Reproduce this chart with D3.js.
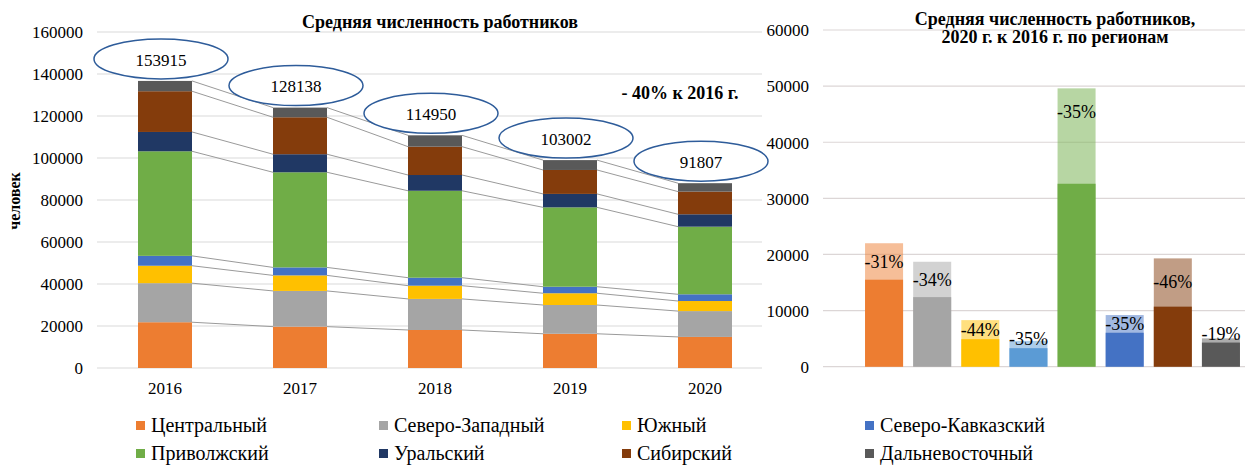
<!DOCTYPE html>
<html>
<head>
<meta charset="utf-8">
<script src="https://cdn.jsdelivr.net/npm/d3@7"></script>
<style>
    body { margin: 0; background: #fff; }
</style>
</head>
<body>
<div id="chart"></div>
<script>
// years and regions
const years = ["2016", "2017", "2018", "2019", "2020"];
const regions = ["Центральный", "Северо-Западный", "Южный", "Северо-Кавказский",
    "Приволжский", "Уральский", "Сибирский", "Дальневосточный"];

// stacked values per region (persons), by year
const central = [21800, 19700, 18100, 16300, 14800];
const northWest = [18600, 17000, 14800, 13700, 12300];
const south = [8300, 7400, 6300, 5600, 4800];
const northCaucasus = [4700, 3800, 3800, 3100, 3200];
const volga = [49800, 45300, 41400, 37800, 32200];
const ural = [9200, 8600, 7500, 6400, 5900];
const siberia = [19400, 17600, 13500, 11400, 10800];
const farEast = [4900, 4600, 5400, 4700, 4000];

// labels in the ellipses
const totalLabels = ["153915", "128138", "114950", "103002", "91807"];

// right chart: 2016 vs 2020 by region
const regions2016 = [22000, 18700, 8300, 4600, 49600, 9200, 19300, 5050];
const regions2020 = [15500, 12400, 4900, 3300, 32600, 6050, 10700, 4300];
const changeLabels = ["-31%", "-34%", "-44%", "-35%", "-35%", "-35%", "-46%", "-19%"];

const leftTicks = [0, 20000, 40000, 60000, 80000, 100000, 120000, 140000, 160000];
const rightTicks = [0, 10000, 20000, 30000, 40000, 50000, 60000];

const colors = ["#ED7D31", "#A5A5A5", "#FFC000", "#4472C4", "#70AD47", "#203864", "#843C0C", "#595959"];
const rightColors = ["#ED7D31", "#A5A5A5", "#FFC000", "#5B9BD5", "#70AD47", "#4472C4", "#843C0C", "#595959"];

const series = [central, northWest, south, northCaucasus, volga, ural, siberia, farEast];

const font = "Liberation Serif";
const width = 1245, height = 466;
const svg = d3.select("#chart").append("svg")
    .attr("width", width)
    .attr("height", height)
    .style("font-family", font);

// ---------- left chart ----------
const table = years.map((y, i) => {
    const row = { year: y };
    regions.forEach((r, j) => row[r] = series[j][i]);
    return row;
});
const stacked = d3.stack().keys(regions)(table);

const xLeft = d3.scaleBand().domain(years).range([97.5, 772.5])
    .paddingInner(0.6).paddingOuter(0.3);
const yLeft = d3.scaleLinear().domain([0, 160000]).range([368, 32]);

const left = svg.append("g");

left.append("g")
    .selectAll("line")
    .data(leftTicks)
    .enter()
    .append("line")
    .attr("x1", 97).attr("x2", 762)
    .attr("y1", d => yLeft(d)).attr("y2", d => yLeft(d))
    .attr("stroke", "#d9d9d9")
    .attr("stroke-width", 1.2);

function styleAxis(g) {
    g.attr("font-family", null).attr("font-size", null);
    g.select(".domain").remove();
    g.selectAll("text")
        .attr("dy", "0.34em")
        .style("font-family", font)
        .style("font-size", "17px")
        .attr("fill", "#000");
}

const yAxisLeft = d3.axisLeft(yLeft).tickValues(leftTicks).tickSize(0).tickPadding(0).tickFormat(d3.format("d"));
left.append("g")
    .attr("transform", "translate(83,0)")
    .call(yAxisLeft)
    .call(styleAxis);

const xAxisLeft = d3.axisBottom(xLeft).tickSize(0).tickPadding(0);
left.append("g")
    .attr("transform", "translate(0,388)")
    .call(xAxisLeft)
    .call(styleAxis);

// series lines between bars
stacked.forEach(layer => {
    for (let i = 0; i < years.length - 1; i++) {
        left.append("line")
            .attr("x1", xLeft(years[i]) + xLeft.bandwidth())
            .attr("y1", yLeft(layer[i][1]))
            .attr("x2", xLeft(years[i + 1]))
            .attr("y2", yLeft(layer[i + 1][1]))
            .attr("stroke", "#9a9a9a")
            .attr("stroke-width", 1);
    }
});

left.selectAll("g.layer")
    .data(stacked)
    .enter()
    .append("g")
    .attr("class", "layer")
    .attr("fill", (d, i) => colors[i])
    .selectAll("rect")
    .data(d => d)
    .enter()
    .append("rect")
    .attr("x", d => xLeft(d.data.year))
    .attr("y", d => yLeft(d[1]))
    .attr("width", xLeft.bandwidth())
    .attr("height", d => yLeft(d[0]) - yLeft(d[1]));

// ellipses with totals
const tops = years.map((y, i) => stacked[stacked.length - 1][i][1]);
const bubbles = left.selectAll("g.bubble")
    .data(years)
    .enter()
    .append("g")
    .attr("class", "bubble")
    .attr("transform", (d, i) => `translate(${xLeft(d) + xLeft.bandwidth() / 2 - 4}, ${yLeft(tops[i]) - 22})`);
bubbles.append("ellipse")
    .attr("rx", 67).attr("ry", 20)
    .attr("fill", "#fff")
    .attr("stroke", "#2E5C9A")
    .attr("stroke-width", 1.5);
bubbles.append("text")
    .attr("text-anchor", "middle")
    .attr("dy", "0.4em")
    .style("font-size", "17px")
    .text((d, i) => totalLabels[i]);

left.append("text")
    .attr("x", 440).attr("y", 28)
    .attr("text-anchor", "middle")
    .style("font-size", "18px")
    .style("font-weight", "bold")
    .text("Средняя численность работников");

left.append("text")
    .attr("x", 680).attr("y", 99)
    .attr("text-anchor", "middle")
    .style("font-size", "18px")
    .style("font-weight", "bold")
    .text("- 40% к 2016 г.");

left.append("text")
    .attr("transform", "rotate(-90)")
    .attr("x", -201).attr("y", 20)
    .attr("text-anchor", "middle")
    .style("font-size", "16px")
    .style("font-weight", "bold")
    .text("человек");

// ---------- right chart ----------
const xRight = d3.scaleBand().domain(regions).range([860, 1245])
    .paddingInner(0.21).paddingOuter(0.105);
const yRight = d3.scaleLinear().domain([0, 60000]).range([366.7, 30]);

const right = svg.append("g");

right.append("g")
    .selectAll("line")
    .data(rightTicks)
    .enter()
    .append("line")
    .attr("x1", 823).attr("x2", 1245)
    .attr("y1", d => yRight(d)).attr("y2", d => yRight(d))
    .attr("stroke", "#dcd6d6")
    .attr("stroke-width", 1.2);

const yAxisRight = d3.axisLeft(yRight).tickValues(rightTicks).tickSize(0).tickPadding(0).tickFormat(d3.format("d"));
right.append("g")
    .attr("transform", "translate(809,0)")
    .call(yAxisRight)
    .call(styleAxis);

right.selectAll("rect.old")
    .data(regions)
    .enter()
    .append("rect")
    .attr("class", "old")
    .attr("x", d => xRight(d))
    .attr("y", (d, i) => yRight(regions2016[i]))
    .attr("width", xRight.bandwidth())
    .attr("height", (d, i) => yRight(0) - yRight(regions2016[i]))
    .attr("fill", (d, i) => rightColors[i])
    .attr("fill-opacity", 0.5);

right.selectAll("rect.new")
    .data(regions)
    .enter()
    .append("rect")
    .attr("class", "new")
    .attr("x", d => xRight(d))
    .attr("y", (d, i) => yRight(regions2020[i]))
    .attr("width", xRight.bandwidth())
    .attr("height", (d, i) => yRight(0) - yRight(regions2020[i]))
    .attr("fill", (d, i) => rightColors[i]);

// percent label sits in the pale part, kept clear of the dark part
right.selectAll("text.pct")
    .data(regions)
    .enter()
    .append("text")
    .attr("class", "pct")
    .attr("x", d => xRight(d) + xRight.bandwidth() / 2)
    .attr("y", (d, i) => {
        const top = yRight(regions2016[i]);
        const darkTop = yRight(regions2020[i]);
        return Math.min((top + darkTop) / 2, top + 23, darkTop - 9);
    })
    .attr("dy", "0.35em")
    .attr("text-anchor", "middle")
    .style("font-size", "18px")
    .text((d, i) => changeLabels[i]);

const rTitle = right.append("text")
    .attr("text-anchor", "middle")
    .style("font-size", "18px")
    .style("font-weight", "bold");
rTitle.append("tspan").attr("x", 1055).attr("y", 25).text("Средняя численность работников,");
rTitle.append("tspan").attr("x", 1055).attr("y", 43).text("2020 г. к 2016 г. по регионам");

// ---------- legend ----------
const legendX = [136, 379, 622, 865];
const legendY = [426, 454];
const legend = svg.append("g");
const items = legend.selectAll("g")
    .data(regions)
    .enter()
    .append("g")
    .attr("transform", (d, i) => `translate(${legendX[i % 4]}, ${legendY[Math.floor(i / 4)]})`);
items.append("rect")
    .attr("x", 0).attr("y", -5)
    .attr("width", 9).attr("height", 9)
    .attr("fill", (d, i) => colors[i]);
items.append("text")
    .attr("x", 15)
    .attr("dy", "0.32em")
    .style("font-size", "20px")
    .text(d => d);
</script>
</body>
</html>
